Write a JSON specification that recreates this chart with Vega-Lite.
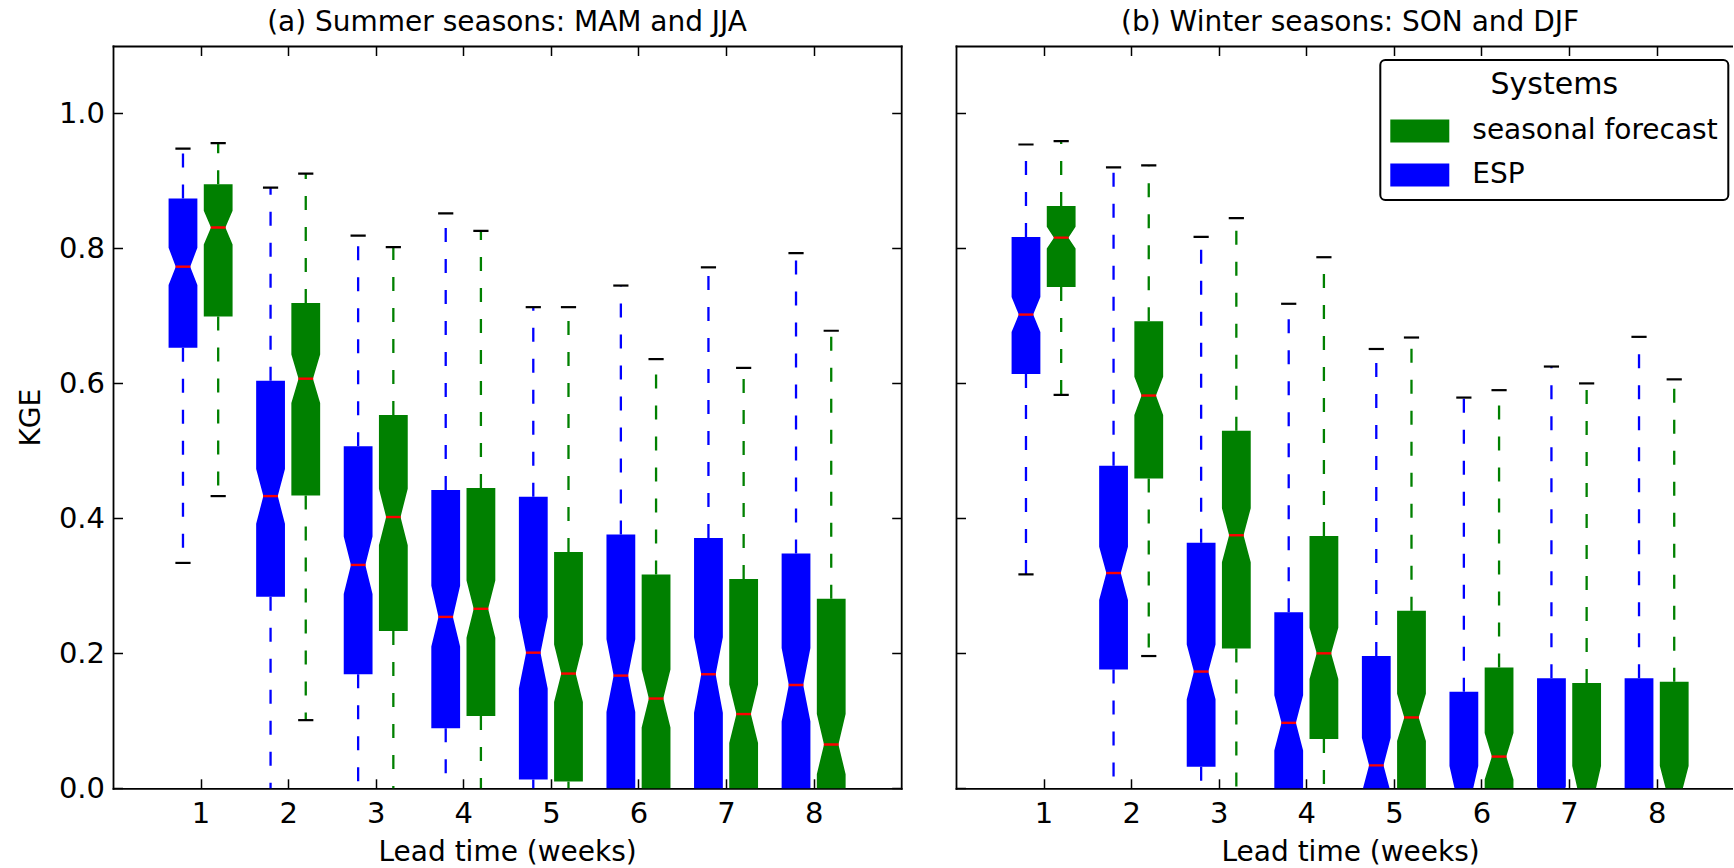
{
  "$schema": "https://vega.github.io/schema/vega-lite/v6.json",
  "background": "white",
  "padding": {"left": 17, "top": 9, "right": -12, "bottom": 0},
  "spacing": 53,
  "datasets": {
    "boxes": [
      {"panel": "a", "lead": 1, "system": "ESP", "whi": 0.948, "q3": 0.874, "nhi": 0.801, "med": 0.773, "nlo": 0.746, "q1": 0.653, "wlo": 0.334},
      {"panel": "a", "lead": 1, "system": "seasonal forecast", "whi": 0.956, "q3": 0.895, "nhi": 0.856, "med": 0.831, "nlo": 0.806, "q1": 0.699, "wlo": 0.433},
      {"panel": "a", "lead": 2, "system": "ESP", "whi": 0.890, "q3": 0.604, "nhi": 0.473, "med": 0.433, "nlo": 0.392, "q1": 0.284, "wlo": -0.2},
      {"panel": "a", "lead": 2, "system": "seasonal forecast", "whi": 0.911, "q3": 0.719, "nhi": 0.643, "med": 0.607, "nlo": 0.571, "q1": 0.434, "wlo": 0.101},
      {"panel": "a", "lead": 3, "system": "ESP", "whi": 0.819, "q3": 0.507, "nhi": 0.373, "med": 0.331, "nlo": 0.288, "q1": 0.169, "wlo": -0.03},
      {"panel": "a", "lead": 3, "system": "seasonal forecast", "whi": 0.802, "q3": 0.553, "nhi": 0.444, "med": 0.402, "nlo": 0.360, "q1": 0.233, "wlo": -0.1},
      {"panel": "a", "lead": 4, "system": "ESP", "whi": 0.852, "q3": 0.442, "nhi": 0.300, "med": 0.254, "nlo": 0.210, "q1": 0.089, "wlo": -0.03},
      {"panel": "a", "lead": 4, "system": "seasonal forecast", "whi": 0.826, "q3": 0.445, "nhi": 0.308, "med": 0.266, "nlo": 0.223, "q1": 0.107, "wlo": -0.1},
      {"panel": "a", "lead": 5, "system": "ESP", "whi": 0.713, "q3": 0.432, "nhi": 0.254, "med": 0.201, "nlo": 0.148, "q1": 0.013, "wlo": -0.3},
      {"panel": "a", "lead": 5, "system": "seasonal forecast", "whi": 0.713, "q3": 0.350, "nhi": 0.213, "med": 0.170, "nlo": 0.128, "q1": 0.010, "wlo": -0.3},
      {"panel": "a", "lead": 6, "system": "ESP", "whi": 0.745, "q3": 0.376, "nhi": 0.221, "med": 0.167, "nlo": 0.113, "q1": -0.1, "wlo": -0.5},
      {"panel": "a", "lead": 6, "system": "seasonal forecast", "whi": 0.636, "q3": 0.317, "nhi": 0.176, "med": 0.133, "nlo": 0.090, "q1": -0.1, "wlo": -0.5},
      {"panel": "a", "lead": 7, "system": "ESP", "whi": 0.772, "q3": 0.371, "nhi": 0.224, "med": 0.169, "nlo": 0.112, "q1": -0.1, "wlo": -0.5},
      {"panel": "a", "lead": 7, "system": "seasonal forecast", "whi": 0.623, "q3": 0.310, "nhi": 0.154, "med": 0.110, "nlo": 0.067, "q1": -0.1, "wlo": -0.5},
      {"panel": "a", "lead": 8, "system": "ESP", "whi": 0.793, "q3": 0.348, "nhi": 0.208, "med": 0.153, "nlo": 0.099, "q1": -0.1, "wlo": -0.5},
      {"panel": "a", "lead": 8, "system": "seasonal forecast", "whi": 0.678, "q3": 0.281, "nhi": 0.110, "med": 0.065, "nlo": 0.021, "q1": -0.1, "wlo": -0.5},
      {"panel": "b", "lead": 1, "system": "ESP", "whi": 0.954, "q3": 0.817, "nhi": 0.728, "med": 0.702, "nlo": 0.676, "q1": 0.614, "wlo": 0.317},
      {"panel": "b", "lead": 1, "system": "seasonal forecast", "whi": 0.959, "q3": 0.863, "nhi": 0.832, "med": 0.816, "nlo": 0.800, "q1": 0.743, "wlo": 0.583},
      {"panel": "b", "lead": 2, "system": "ESP", "whi": 0.920, "q3": 0.478, "nhi": 0.358, "med": 0.319, "nlo": 0.279, "q1": 0.176, "wlo": -0.05},
      {"panel": "b", "lead": 2, "system": "seasonal forecast", "whi": 0.923, "q3": 0.692, "nhi": 0.610, "med": 0.582, "nlo": 0.553, "q1": 0.459, "wlo": 0.196},
      {"panel": "b", "lead": 3, "system": "ESP", "whi": 0.817, "q3": 0.364, "nhi": 0.213, "med": 0.173, "nlo": 0.132, "q1": 0.032, "wlo": -0.02},
      {"panel": "b", "lead": 3, "system": "seasonal forecast", "whi": 0.845, "q3": 0.530, "nhi": 0.415, "med": 0.375, "nlo": 0.335, "q1": 0.207, "wlo": -0.1},
      {"panel": "b", "lead": 4, "system": "ESP", "whi": 0.718, "q3": 0.261, "nhi": 0.138, "med": 0.097, "nlo": 0.056, "q1": -0.05, "wlo": -0.4},
      {"panel": "b", "lead": 4, "system": "seasonal forecast", "whi": 0.787, "q3": 0.374, "nhi": 0.238, "med": 0.200, "nlo": 0.162, "q1": 0.073, "wlo": -0.2},
      {"panel": "b", "lead": 5, "system": "ESP", "whi": 0.651, "q3": 0.196, "nhi": 0.075, "med": 0.034, "nlo": -0.006, "q1": -0.1, "wlo": -0.5},
      {"panel": "b", "lead": 5, "system": "seasonal forecast", "whi": 0.668, "q3": 0.263, "nhi": 0.140, "med": 0.105, "nlo": 0.070, "q1": -0.05, "wlo": -0.4},
      {"panel": "b", "lead": 6, "system": "ESP", "whi": 0.579, "q3": 0.143, "nhi": 0.033, "med": -0.014, "nlo": -0.061, "q1": -0.15, "wlo": -0.6},
      {"panel": "b", "lead": 6, "system": "seasonal forecast", "whi": 0.590, "q3": 0.179, "nhi": 0.082, "med": 0.047, "nlo": 0.013, "q1": -0.06, "wlo": -0.5},
      {"panel": "b", "lead": 7, "system": "ESP", "whi": 0.625, "q3": 0.163, "nhi": 0.003, "med": -0.04, "nlo": -0.083, "q1": -0.2, "wlo": -0.6},
      {"panel": "b", "lead": 7, "system": "seasonal forecast", "whi": 0.600, "q3": 0.156, "nhi": 0.033, "med": -0.014, "nlo": -0.061, "q1": -0.15, "wlo": -0.6},
      {"panel": "b", "lead": 8, "system": "ESP", "whi": 0.669, "q3": 0.163, "nhi": 0.000, "med": -0.045, "nlo": -0.09, "q1": -0.2, "wlo": -0.6},
      {"panel": "b", "lead": 8, "system": "seasonal forecast", "whi": 0.606, "q3": 0.158, "nhi": 0.033, "med": -0.008, "nlo": -0.049, "q1": -0.15, "wlo": -0.6}
    ]
  },
  "hconcat": [
    {
      "width": 788.2,
      "height": 742.3,
      "title": {"text": "(a) Summer seasons: MAM and JJA", "fontSize": 28, "fontWeight": "normal", "font": "DejaVu Sans", "color": "black", "anchor": "middle", "frame": "group", "baseline": "alphabetic", "offset": -13.8},
      "data": {"name": "boxes"},
      "transform": [{"filter": "datum.panel === 'a'"}],
      "layer": [
        {
          "mark": {"type": "rule", "clip": true, "strokeWidth": 2.3, "strokeDash": [14, 17], "xOffset": {"expr": "datum.system === 'ESP' ? -17.6 : 17.6"}},
          "encoding": {
            "x": {"field": "lead", "type": "quantitative", "scale": {"domain": [0, 9], "nice": false, "zero": false},
                  "axis": {"orient": "bottom", "values": [1, 2, 3, 4, 5, 6, 7, 8], "format": "d", "labelFontSize": 29, "tickSize": -9.5, "tickWidth": 1.5, "labelPadding": 20.5, "domain": true, "domainWidth": 1.8, "domainCap": "square", "title": "Lead time (weeks)", "titleFontSize": 28, "titlePadding": 10.5, "minExtent": 0}},
            "y": {"field": "q1", "type": "quantitative", "scale": {"domain": [0, 1.1], "nice": false, "zero": false},
                  "axis": {"orient": "left", "values": [0, 0.2, 0.4, 0.6, 0.8, 1.0], "format": ".1f", "labelFontSize": 29, "tickSize": -9.5, "tickWidth": 1.5, "labelPadding": 18, "domain": true, "domainWidth": 1.8, "domainCap": "square", "title": "KGE", "titleFontSize": 28, "titlePadding": 13, "minExtent": 0}},
            "y2": {"field": "wlo"},
            "stroke": {"field": "system", "type": "nominal", "scale": {"domain": ["ESP", "seasonal forecast"], "range": ["#0000ff", "#008000"]}, "legend": null}
          }
        },
        {
          "mark": {"type": "rule", "clip": true, "strokeWidth": 2.3, "strokeDash": [14, 17], "xOffset": {"expr": "datum.system === 'ESP' ? -17.6 : 17.6"}},
          "encoding": {
            "x": {"field": "lead", "type": "quantitative", "scale": {"domain": [0, 9], "nice": false, "zero": false},
                  "axis": {"orient": "top", "values": [1, 2, 3, 4, 5, 6, 7, 8], "labels": false, "tickSize": -9.5, "tickWidth": 1.5, "domain": true, "domainWidth": 1.8, "domainCap": "square", "title": null, "minExtent": 0, "maxExtent": 0}},
            "y": {"field": "q3", "type": "quantitative", "scale": {"domain": [0, 1.1], "nice": false, "zero": false},
                  "axis": {"orient": "right", "values": [0, 0.2, 0.4, 0.6, 0.8, 1.0], "labels": false, "tickSize": -9.5, "tickWidth": 1.5, "domain": true, "domainWidth": 1.8, "domainCap": "square", "title": null, "minExtent": 0, "maxExtent": 0}},
            "y2": {"field": "whi"},
            "stroke": {"field": "system", "type": "nominal", "scale": {"domain": ["ESP", "seasonal forecast"], "range": ["#0000ff", "#008000"]}, "legend": null}
          }
        },
        {
          "transform": [{"fold": ["whi", "wlo"], "as": ["ck", "cv"]}],
          "mark": {"type": "rule", "clip": true, "strokeWidth": 2.2, "color": "black", "xOffset": {"expr": "(datum.system === 'ESP' ? -17.6 : 17.6) - 7.6"}, "x2Offset": {"expr": "(datum.system === 'ESP' ? -17.6 : 17.6) + 7.6"}},
          "encoding": {
            "x": {"field": "lead", "type": "quantitative", "scale": {"domain": [0, 9], "nice": false, "zero": false}, "axis": null},
            "x2": {"field": "lead"},
            "y": {"field": "cv", "type": "quantitative", "scale": {"domain": [0, 1.1], "nice": false, "zero": false}, "axis": null}
          }
        },
        {
          "transform": [{"fold": ["q1", "nlo", "med", "nhi", "q3"], "as": ["key", "value"]}],
          "mark": {"type": "area", "orient": "horizontal", "clip": true, "interpolate": "linear",
                   "xOffset": {"expr": "(datum.system === 'ESP' ? -17.6 : 17.6) - (datum.key === 'med' ? 7.2 : 14.4)"},
                   "x2Offset": {"expr": "(datum.system === 'ESP' ? -17.6 : 17.6) + (datum.key === 'med' ? 7.2 : 14.4)"}},
          "encoding": {
            "x": {"field": "lead", "type": "quantitative", "scale": {"domain": [0, 9], "nice": false, "zero": false}, "axis": null},
            "x2": {"field": "lead"},
            "y": {"field": "value", "type": "quantitative", "scale": {"domain": [0, 1.1], "nice": false, "zero": false}, "axis": null},
            "fill": {"field": "system", "type": "nominal", "scale": {"domain": ["seasonal forecast", "ESP"], "range": ["#008000", "#0000ff"]}, "legend": null},
            "detail": {"field": "lead", "type": "nominal"}
          }
        },
        {
          "mark": {"type": "rule", "clip": true, "strokeWidth": 2.4, "color": "#ff0000", "xOffset": {"expr": "(datum.system === 'ESP' ? -17.6 : 17.6) - 7.4"}, "x2Offset": {"expr": "(datum.system === 'ESP' ? -17.6 : 17.6) + 7.4"}},
          "encoding": {
            "x": {"field": "lead", "type": "quantitative", "scale": {"domain": [0, 9], "nice": false, "zero": false}, "axis": null},
            "x2": {"field": "lead"},
            "y": {"field": "med", "type": "quantitative", "scale": {"domain": [0, 1.1], "nice": false, "zero": false}, "axis": null}
          }
        }
      ],
      "resolve": {"axis": {"x": "independent", "y": "independent"}}
    },
    {
      "width": 788.2,
      "height": 742.3,
      "title": {"text": "(b) Winter seasons: SON and DJF", "fontSize": 28, "fontWeight": "normal", "font": "DejaVu Sans", "color": "black", "anchor": "middle", "frame": "group", "baseline": "alphabetic", "offset": -13.8},
      "data": {"name": "boxes"},
      "transform": [{"filter": "datum.panel === 'b'"}],
      "layer": [
        {
          "mark": {"type": "rule", "clip": true, "strokeWidth": 2.3, "strokeDash": [14, 17], "xOffset": {"expr": "datum.system === 'ESP' ? -17.6 : 17.6"}},
          "encoding": {
            "x": {"field": "lead", "type": "quantitative", "scale": {"domain": [0, 9], "nice": false, "zero": false},
                  "axis": {"orient": "bottom", "values": [1, 2, 3, 4, 5, 6, 7, 8], "format": "d", "labelFontSize": 29, "tickSize": -9.5, "tickWidth": 1.5, "labelPadding": 20.5, "domain": true, "domainWidth": 1.8, "domainCap": "square", "title": "Lead time (weeks)", "titleFontSize": 28, "titlePadding": 10.5, "minExtent": 0}},
            "y": {"field": "q1", "type": "quantitative", "scale": {"domain": [0, 1.1], "nice": false, "zero": false},
                  "axis": {"orient": "left", "values": [0, 0.2, 0.4, 0.6, 0.8, 1.0], "labels": false, "tickSize": -9.5, "tickWidth": 1.5, "domain": true, "domainWidth": 1.8, "domainCap": "square", "title": null, "minExtent": 0, "maxExtent": 0}},
            "y2": {"field": "wlo"},
            "stroke": {"field": "system", "type": "nominal", "scale": {"domain": ["ESP", "seasonal forecast"], "range": ["#0000ff", "#008000"]}, "legend": null}
          }
        },
        {
          "mark": {"type": "rule", "clip": true, "strokeWidth": 2.3, "strokeDash": [14, 17], "xOffset": {"expr": "datum.system === 'ESP' ? -17.6 : 17.6"}},
          "encoding": {
            "x": {"field": "lead", "type": "quantitative", "scale": {"domain": [0, 9], "nice": false, "zero": false},
                  "axis": {"orient": "top", "values": [1, 2, 3, 4, 5, 6, 7, 8], "labels": false, "tickSize": -9.5, "tickWidth": 1.5, "domain": true, "domainWidth": 1.8, "domainCap": "square", "title": null, "minExtent": 0, "maxExtent": 0}},
            "y": {"field": "q3", "type": "quantitative", "scale": {"domain": [0, 1.1], "nice": false, "zero": false}, "axis": null},
            "y2": {"field": "whi"},
            "stroke": {"field": "system", "type": "nominal", "scale": {"domain": ["ESP", "seasonal forecast"], "range": ["#0000ff", "#008000"]}, "legend": null}
          }
        },
        {
          "transform": [{"fold": ["whi", "wlo"], "as": ["ck", "cv"]}],
          "mark": {"type": "rule", "clip": true, "strokeWidth": 2.2, "color": "black", "xOffset": {"expr": "(datum.system === 'ESP' ? -17.6 : 17.6) - 7.6"}, "x2Offset": {"expr": "(datum.system === 'ESP' ? -17.6 : 17.6) + 7.6"}},
          "encoding": {
            "x": {"field": "lead", "type": "quantitative", "scale": {"domain": [0, 9], "nice": false, "zero": false}, "axis": null},
            "x2": {"field": "lead"},
            "y": {"field": "cv", "type": "quantitative", "scale": {"domain": [0, 1.1], "nice": false, "zero": false}, "axis": null}
          }
        },
        {
          "transform": [{"fold": ["q1", "nlo", "med", "nhi", "q3"], "as": ["key", "value"]}],
          "mark": {"type": "area", "orient": "horizontal", "clip": true, "interpolate": "linear",
                   "xOffset": {"expr": "(datum.system === 'ESP' ? -17.6 : 17.6) - (datum.key === 'med' ? 7.2 : 14.4)"},
                   "x2Offset": {"expr": "(datum.system === 'ESP' ? -17.6 : 17.6) + (datum.key === 'med' ? 7.2 : 14.4)"}},
          "encoding": {
            "x": {"field": "lead", "type": "quantitative", "scale": {"domain": [0, 9], "nice": false, "zero": false}, "axis": null},
            "x2": {"field": "lead"},
            "y": {"field": "value", "type": "quantitative", "scale": {"domain": [0, 1.1], "nice": false, "zero": false}, "axis": null},
            "fill": {"field": "system", "type": "nominal", "scale": {"domain": ["seasonal forecast", "ESP"], "range": ["#008000", "#0000ff"]},
                     "legend": {"title": "Systems", "orient": "none", "legendX": 424.3, "legendY": 14, "symbolType": "M-1,-0.39H1V0.39H-1Z", "symbolSize": 3481, "symbolStrokeWidth": 0, "labelFontSize": 28, "labelOffset": 23, "labelLimit": 600, "labelFont": "DejaVu Sans", "labelColor": "black", "titleFontSize": 30, "titleFontWeight": "normal", "titleFont": "DejaVu Sans", "titleColor": "black", "titleAnchor": "middle", "titleAlign": "center", "titlePadding": 1.6, "rowPadding": -2.4, "padding": 10, "strokeColor": "black", "fillColor": "white", "cornerRadius": 5, "zindex": 2}},
            "detail": {"field": "lead", "type": "nominal"}
          }
        },
        {
          "mark": {"type": "rule", "clip": true, "strokeWidth": 2.4, "color": "#ff0000", "xOffset": {"expr": "(datum.system === 'ESP' ? -17.6 : 17.6) - 7.4"}, "x2Offset": {"expr": "(datum.system === 'ESP' ? -17.6 : 17.6) + 7.4"}},
          "encoding": {
            "x": {"field": "lead", "type": "quantitative", "scale": {"domain": [0, 9], "nice": false, "zero": false}, "axis": null},
            "x2": {"field": "lead"},
            "y": {"field": "med", "type": "quantitative", "scale": {"domain": [0, 1.1], "nice": false, "zero": false}, "axis": null}
          }
        }
      ],
      "resolve": {"axis": {"x": "independent", "y": "independent"}}
    }
  ],
  "resolve": {"scale": {"fill": "independent", "stroke": "independent"}, "legend": {"fill": "independent", "stroke": "independent"}},
  "config": {
    "font": "DejaVu Sans",
    "view": {"stroke": null},
    "legend": {"strokeWidth": 2},
    "axis": {"grid": false, "minExtent": 0, "labelColor": "black", "titleColor": "black", "tickColor": "black", "domainColor": "black", "labelFont": "DejaVu Sans", "titleFont": "DejaVu Sans", "titleFontWeight": "normal", "zindex": 1}
  }
}
